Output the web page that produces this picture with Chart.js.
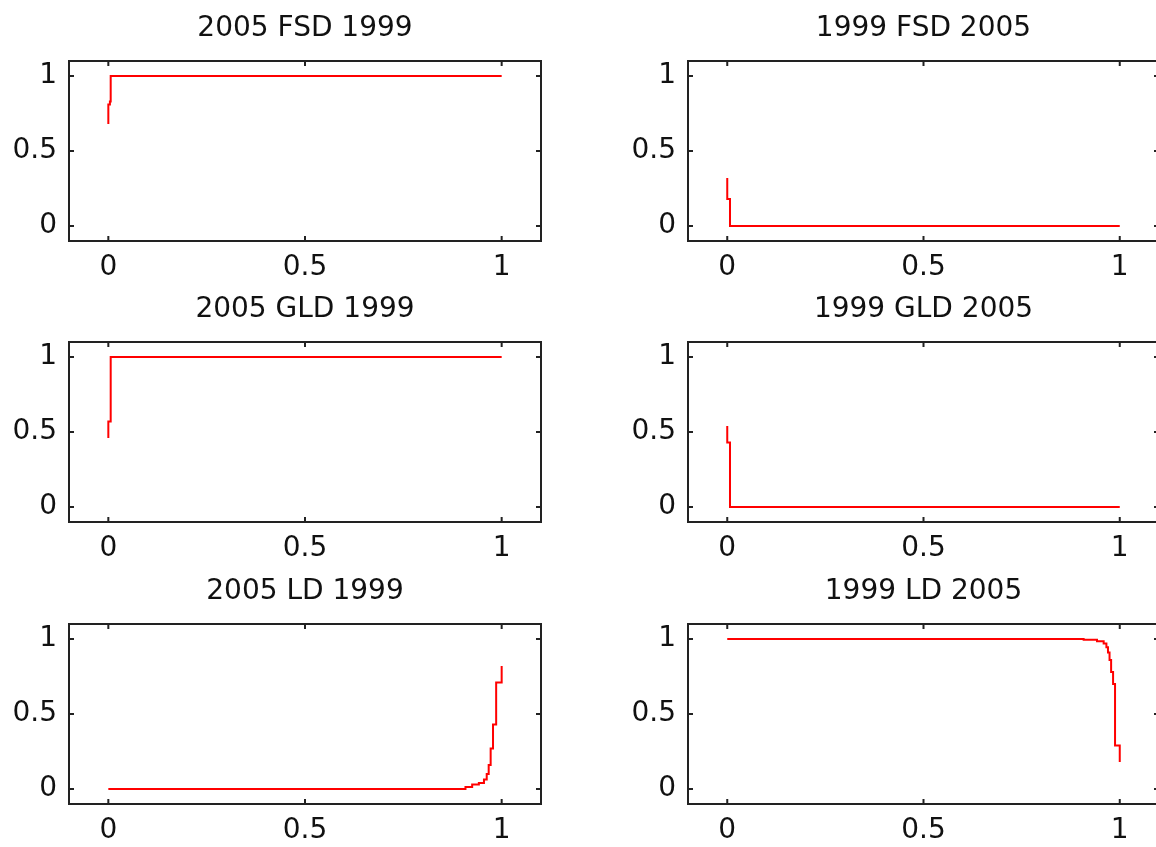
<!DOCTYPE html>
<html>
<head>
<meta charset="utf-8">
<script src="https://cdn.jsdelivr.net/npm/chart.js@4.4.1/dist/chart.umd.min.js"></script>
<style>
  html, body { margin: 0; padding: 0; background: #ffffff; overflow: hidden; width: 1156px; height: 847px; }
  canvas { position: absolute; }
</style>
</head>
<body>
<canvas id="c0"></canvas>
<canvas id="c1"></canvas>
<canvas id="c2"></canvas>
<canvas id="c3"></canvas>
<canvas id="c4"></canvas>
<canvas id="c5"></canvas>
<script>
// ---------------- DATA ----------------
const titles = ['2005 FSD 1999', '1999 FSD 2005', '2005 GLD 1999', '1999 GLD 2005', '2005 LD 1999', '1999 LD 2005'];
const xTicks = [0, 0.5, 1];
const yTicks = [0, 0.5, 1];
const tickLabels = ['0', '0.5', '1'];

const fsd0599X = [0, 0, 0.004, 0.006, 1];
const fsd0599Y = [0.68, 0.81, 0.83, 1, 1];

const fsd9905X = [0, 0, 0.007, 1];
const fsd9905Y = [0.32, 0.18, 0, 0];

const gld0599X = [0, 0, 0.006, 1];
const gld0599Y = [0.46, 0.57, 1, 1];

const gld9905X = [0, 0, 0.007, 1];
const gld9905Y = [0.54, 0.43, 0, 0];

const ld0599X = [0, 0.908, 0.925, 0.942, 0.955, 0.962, 0.967, 0.972, 0.978, 0.986, 0.995, 1.0];
const ld0599Y = [0, 0.013, 0.03, 0.04, 0.063, 0.10, 0.16, 0.27, 0.43, 0.71, 0.71, 0.82];

const ld9905X = [0, 0.908, 0.942, 0.959, 0.966, 0.970, 0.974, 0.978, 0.983, 0.988, 1.0];
const ld9905Y = [1, 0.995, 0.985, 0.97, 0.945, 0.91, 0.86, 0.78, 0.70, 0.29, 0.18];

const seriesX = [fsd0599X, fsd9905X, gld0599X, gld9905X, ld0599X, ld9905X];
const seriesY = [fsd0599Y, fsd9905Y, gld0599Y, gld9905Y, ld0599Y, ld9905Y];

// ---------------- LAYOUT ----------------
const FONT = { family: '"DejaVu Sans", Verdana, sans-serif', size: 28, weight: 'normal' };
const TEXT = '#111111';
const cols = [
  { left: 0, width: 578, axisW: 69, padR: 37 },
  { left: 578, width: 600, axisW: 110, padR: 19 }
];
const rows = [
  { top: 0, height: 281, axisH: 40 },
  { top: 281, height: 282, axisH: 41 },
  { top: 563, height: 284, axisH: 43 }
];

const boxPlugin = {
  id: 'matlabBox',
  afterDatasetsDraw(chart) {
    const { ctx, chartArea: a, scales: { x, y } } = chart;
    ctx.save();
    ctx.strokeStyle = '#222222';
    ctx.lineWidth = 2;
    ctx.strokeRect(a.left, a.top, a.right - a.left, a.bottom - a.top);
    const L = 5;
    ctx.beginPath();
    xTicks.forEach(v => {
      const px = x.getPixelForValue(v);
      ctx.moveTo(px, a.bottom); ctx.lineTo(px, a.bottom - L);
      ctx.moveTo(px, a.top); ctx.lineTo(px, a.top + L);
    });
    yTicks.forEach(v => {
      const py = y.getPixelForValue(v);
      ctx.moveTo(a.left, py); ctx.lineTo(a.left + L, py);
      ctx.moveTo(a.right, py); ctx.lineTo(a.right - L, py);
    });
    ctx.stroke();
    ctx.restore();
  }
};

for (let i = 0; i < 6; i++) {
  const col = cols[i % 2], row = rows[Math.floor(i / 2)];
  const cv = document.getElementById('c' + i);
  cv.width = col.width; cv.height = row.height;
  cv.style.left = col.left + 'px'; cv.style.top = row.top + 'px';
  cv.style.width = col.width + 'px'; cv.style.height = row.height + 'px';
  const pts = seriesX[i].map((v, k) => ({ x: v, y: seriesY[i][k] }));
  new Chart(cv, {
    type: 'scatter',
    data: {
      datasets: [{
        data: pts,
        showLine: true,
        stepped: 'before',
        borderColor: '#ff0000',
        borderWidth: 2,
        pointRadius: 0,
        fill: false
      }]
    },
    options: {
      responsive: false,
      animation: false,
      events: [],
      devicePixelRatio: 1,
      layout: { padding: { left: 0, right: col.padR, top: 0, bottom: 0 } },
      plugins: {
        legend: { display: false },
        tooltip: { enabled: false },
        title: {
          display: true, fullSize: false, text: titles[i], color: TEXT, font: FONT,
          padding: { top: 12, bottom: 15.4 }
        }
      },
      scales: {
        x: {
          type: 'linear', min: -0.1, max: 1.1,
          grid: { display: false, drawTicks: false },
          border: { display: false },
          ticks: { padding: 10, color: TEXT, font: FONT, maxRotation: 0,
                   callback: (v) => tickLabels[xTicks.indexOf(v)] },
          afterBuildTicks: (s) => { s.ticks = xTicks.map(v => ({ value: v })); },
          afterFit: (s) => { s.height = row.axisH; }
        },
        y: {
          type: 'linear', min: -0.1, max: 1.1,
          grid: { display: false, drawTicks: false },
          border: { display: false },
          ticks: { padding: 12, color: TEXT, font: FONT,
                   callback: (v) => tickLabels[yTicks.indexOf(v)] },
          afterBuildTicks: (s) => { s.ticks = yTicks.map(v => ({ value: v })); },
          afterFit: (s) => { s.width = col.axisW; }
        }
      }
    },
    plugins: [boxPlugin]
  });
}
</script>
</body>
</html>
